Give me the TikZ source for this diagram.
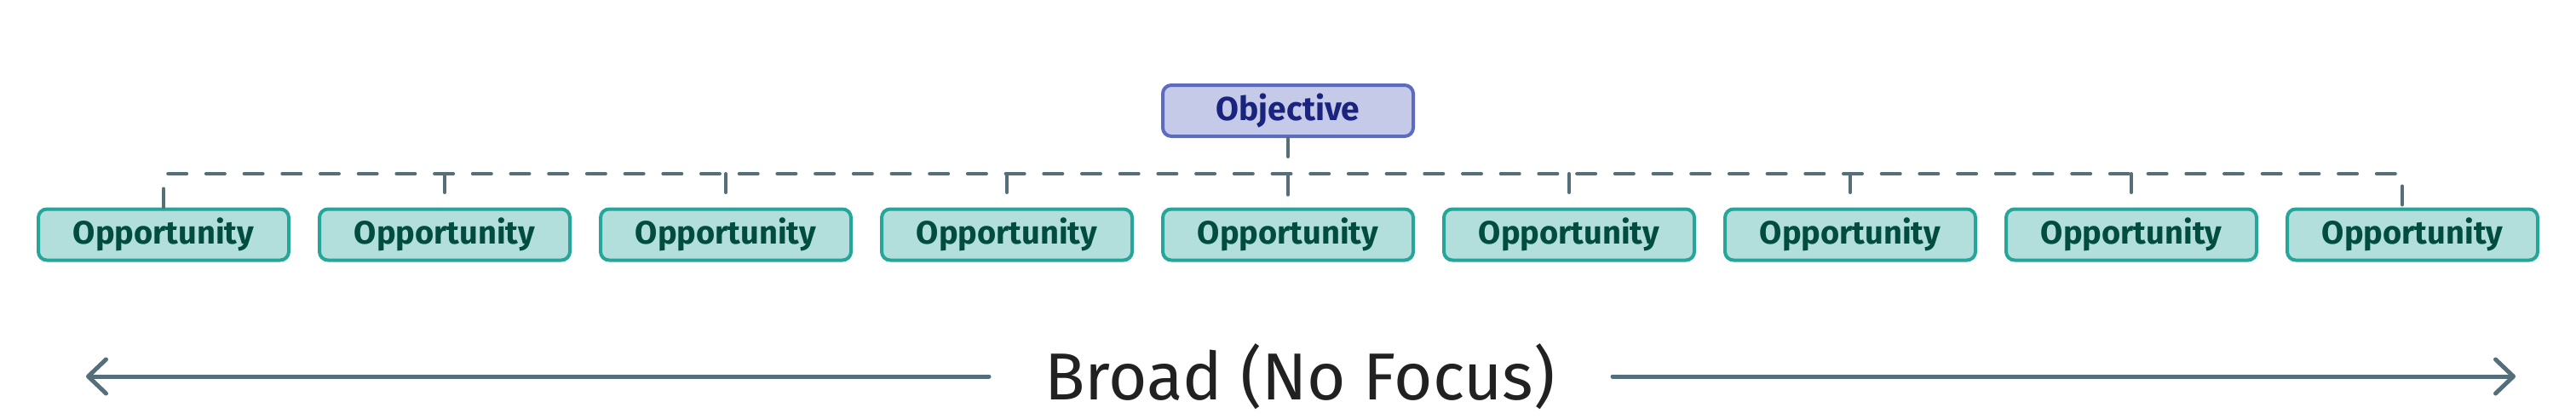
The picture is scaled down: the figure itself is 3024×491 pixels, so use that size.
\documentclass[tikz,border=0pt]{standalone}
\usepackage{fontspec}
\usetikzlibrary{arrows.meta,calc}
\newfontfamily\boxfont{Fira Sans}
\newfontfamily\bigfont{Fira Sans}
\definecolor{objfill}{HTML}{C5CAE9}
\definecolor{objdraw}{HTML}{5C6BC0}
\definecolor{objtext}{HTML}{1A237E}
\definecolor{oppfill}{HTML}{B2DFDB}
\definecolor{oppdraw}{HTML}{26A69A}
\definecolor{opptext}{HTML}{004D40}
\definecolor{linecol}{HTML}{546E7A}
\definecolor{bigtext}{HTML}{212121}
\begin{document}
\begin{tikzpicture}[x=1pt,y=1pt,
  boxbase/.style={rectangle, rounded corners=10pt, line width=4pt,
    minimum width=294pt, minimum height=60pt, inner sep=0pt},
  objbox/.style={boxbase, draw=objdraw, fill=objfill, text=objtext,
    font=\boxfont\bfseries\fontsize{39}{44}\selectfont},
  oppbox/.style={boxbase, draw=oppdraw, fill=oppfill, text=opptext,
    font=\boxfont\bfseries\fontsize{38}{42}\selectfont},
  link/.style={draw=linecol, line width=4pt, line cap=round, line join=round,
    dash pattern=on 22pt off 22.7pt},
  axis/.style={draw=linecol, line width=5pt, line cap=round,
    -{Straight Barb[length=21pt,width=40pt,round]}}
]
\useasboundingbox (0,0) rectangle (3024,-491);
\node[objbox] (obj) at (1512,-130) {Objective};
\foreach \i in {1,...,9}{
  \node[oppbox] (o\i) at ({192+330*(\i-1)},-275.5) {Opportunity};
}
\coordinate (bus1) at (192,-204);
\coordinate (bus9) at (2820,-204);
\coordinate (o9top) at (2820,-244);
\draw[link] (o1.north) -- (bus1) -- (bus9) -- (o9top);
\draw[link] (obj.south) -- (o5.north);
\foreach \i in {2,3,4,6,7,8}{
  \draw[link] (o\i.north |- bus1) -- (o\i.north);
}
\node[font=\bigfont\fontsize{78}{90}\selectfont, text=bigtext, anchor=base, inner sep=0pt] (broad) at (1526,-469) {Broad (No Focus)};
\coordinate (lstart) at (1161,-442);
\coordinate (ltip) at (101,-442);
\coordinate (rstart) at (1893,-442);
\coordinate (rtip) at (2953,-442);
\draw[axis] (lstart) -- (ltip);
\draw[axis] (rstart) -- (rtip);
\end{tikzpicture}
\end{document}
